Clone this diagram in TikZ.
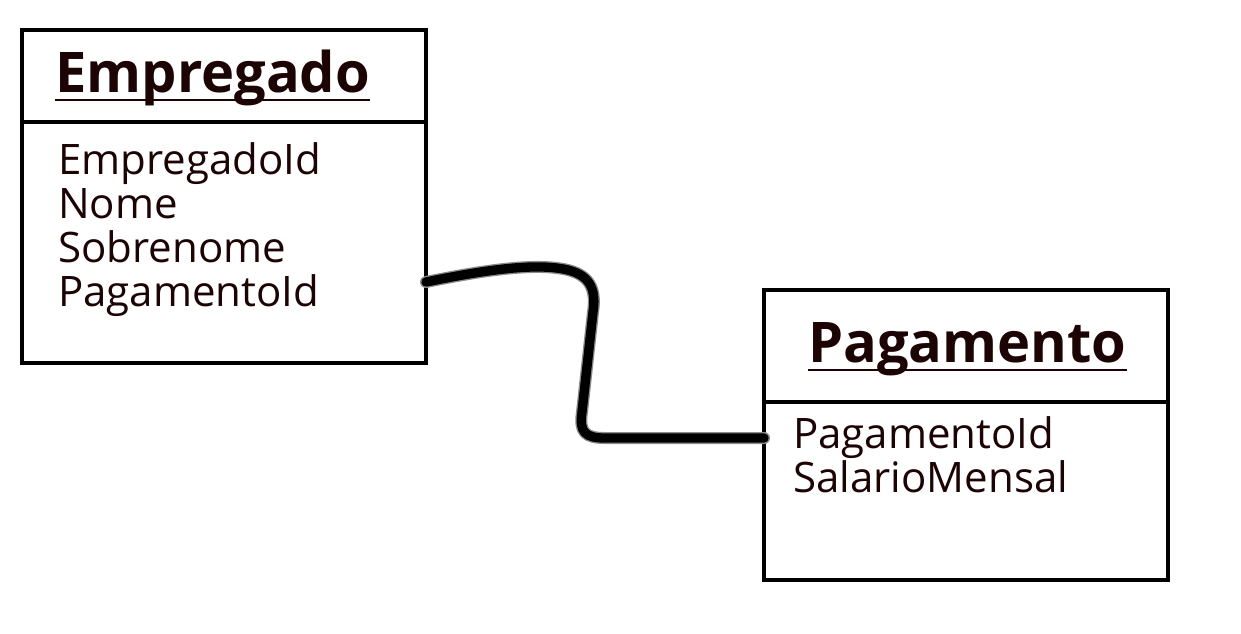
\documentclass[tikz,border=0pt]{standalone}
\usepackage{fontspec}
\setmainfont{Open Sans}
\definecolor{txt}{RGB}{28,4,4}
\begin{document}
\begin{tikzpicture}[x=0.75pt,y=-0.75pt,
  box/.style={draw=black,line width=2.6pt,fill=white,inner sep=0pt,outer sep=0pt,anchor=north west,minimum width=303pt},
  title/.style={anchor=base west,inner sep=0pt,text=txt,font=\fontsize{42}{42}\selectfont\bfseries},
  attr/.style={anchor=base west,inner sep=0pt,text=txt,font=\fontsize{31.5}{32}\selectfont},
  uline/.style={draw=txt,line width=2.2pt}]
\useasboundingbox (0,0) rectangle (1241,633);
% Empregado
\node[box,minimum height=69pt] (emph) at (22,30) {};
\node[box,minimum height=180.75pt] (empb) at (22,122) {};
\node[title] (empt) at (55,92) {Empregado};
\draw[uline] ([yshift=-6pt]empt.base west) -- ([yshift=-6pt]empt.base east);
\node[attr] (a1) at (58,174) {EmpregadoId};
\node[attr] (a2) at (58,218) {Nome};
\node[attr] (a3) at (58,262) {Sobrenome};
\node[attr] (a4) at (58,306) {PagamentoId};
% Pagamento
\node[box,minimum height=84pt] (pagh) at (764,290) {};
\node[box,minimum height=133.5pt] (pagb) at (764,402) {};
\node[title] (pagt) at (808,362) {Pagamento};
\draw[uline] ([yshift=-6pt]pagt.base west) -- ([yshift=-6pt]pagt.base east);
\node[attr] (b1) at (793,448) {PagamentoId};
\node[attr] (b2) at (793,492) {SalarioMensal};
% connector
\coordinate (s) at (empb.east |- 0,282);
\coordinate (t) at (pagb.west |- 0,438);
\foreach \w/\c in {9pt/black!45,7pt/black}{
\draw[line width=\w,\c,line cap=round,line join=round]
  (s) .. controls (480,271) and (535,262) .. (568,270)
  .. controls (592,276) and (596,292) .. (593,312)
  -- (582,412)
  .. controls (579,432) and (585,438) .. (605,438) -- (t);
}
\end{tikzpicture}
\end{document}
